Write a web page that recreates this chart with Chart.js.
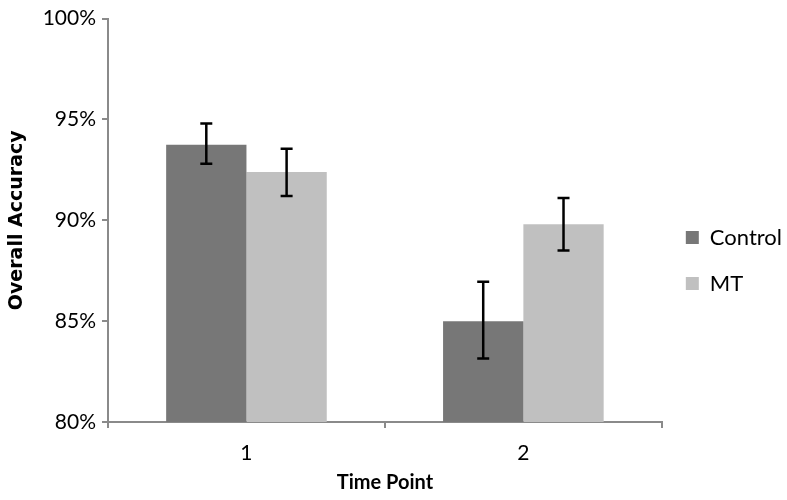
<!DOCTYPE html>
<html lang="en">
<head>
<meta charset="UTF-8">
<title>Overall Accuracy by Time Point</title>
<script src="https://cdn.jsdelivr.net/npm/chart.js"></script>
<style>
    body { margin: 0; background: #fff; }
    .wrap { width: 787px; height: 500px; }
</style>
</head>
<body>
<div class="wrap"><canvas id="chart"></canvas></div>
<script>
    // data
    const timePoints = ['1', '2'];
    const controlMean = [93.75, 85.0];
    const controlLow = [92.8, 83.15];
    const controlHigh = [94.8, 86.95];
    const mtMean = [92.4, 89.8];
    const mtLow = [91.2, 88.5];
    const mtHigh = [93.55, 91.1];
    const yTicks = [80, 85, 90, 95, 100];

    const axisGrey = '#8a8a8a';
    const fontFamily = 'Lato, "DejaVu Sans", sans-serif';

    // simple error bar drawing, positions come from the chart scales
    const errorBars = {
        id: 'errorBars',
        afterDatasetsDraw(chart) {
            const ctx = chart.ctx;
            const y = chart.scales.y;
            chart.data.datasets.forEach((ds, i) => {
                const meta = chart.getDatasetMeta(i);
                meta.data.forEach((bar, j) => {
                    const top = y.getPixelForValue(ds.errHigh[j]);
                    const bot = y.getPixelForValue(ds.errLow[j]);
                    ctx.save();
                    ctx.strokeStyle = '#000';
                    ctx.lineWidth = 2.5;
                    ctx.beginPath();
                    ctx.moveTo(bar.x, top); ctx.lineTo(bar.x, bot);
                    ctx.moveTo(bar.x - 6, top); ctx.lineTo(bar.x + 6, top);
                    ctx.moveTo(bar.x - 6, bot); ctx.lineTo(bar.x + 6, bot);
                    ctx.stroke();
                    ctx.restore();
                });
            });
        }
    };

    new Chart(document.getElementById('chart'), {
        type: 'bar',
        data: {
            labels: timePoints,
            datasets: [{
                label: 'Control',
                data: controlMean,
                errLow: controlLow,
                errHigh: controlHigh,
                backgroundColor: '#777777'
            }, {
                label: 'MT',
                data: mtMean,
                errLow: mtLow,
                errHigh: mtHigh,
                backgroundColor: '#c0c0c0'
            }]
        },
        options: {
            responsive: true,
            maintainAspectRatio: false,
            animation: false,
            categoryPercentage: 0.58,
            barPercentage: 1.0,
            layout: { padding: { top: 4, right: -5, left: 0, bottom: 0 } },
            plugins: {
                tooltip: { enabled: false },
                legend: {
                    position: 'right',
                    title: { display: true, text: ' ', padding: 8, font: { size: 1 } },
                    labels: {
                        boxWidth: 13,
                        boxHeight: 13,
                        padding: 24,
                        color: '#000',
                        font: { family: fontFamily, size: 22 }
                    }
                }
            },
            scales: {
                x: {
                    afterFit: s => { s.height = 78; },
                    border: { color: axisGrey, width: 2 },
                    grid: { offset: true, drawOnChartArea: false, color: axisGrey, tickLength: 6, lineWidth: 2 },
                    ticks: { color: '#000', padding: 13, font: { family: fontFamily, size: 21 } },
                    title: {
                        display: true,
                        text: 'Time Point',
                        color: '#000',
                        padding: { top: 0, bottom: 5 },
                        font: { family: fontFamily, size: 20, weight: 'bold' }
                    }
                },
                y: {
                    min: 80,
                    max: 100,
                    afterFit: s => { s.width = 108; },
                    afterBuildTicks: s => { s.ticks = yTicks.map(v => ({ value: v })); },
                    border: { color: axisGrey, width: 2 },
                    grid: { drawOnChartArea: false, color: axisGrey, tickLength: 6, lineWidth: 2 },
                    ticks: {
                        color: '#000',
                        padding: 6,
                        font: { family: fontFamily, size: 21 },
                        callback: v => v + '%'
                    },
                    title: {
                        display: true,
                        text: 'Overall Accuracy',
                        color: '#000',
                        padding: { top: 6, bottom: 0 },
                        font: { family: '"DejaVu Sans", sans-serif', size: 19, weight: 'bold' }
                    }
                }
            }
        },
        plugins: [errorBars]
    });
</script>
</body>
</html>
